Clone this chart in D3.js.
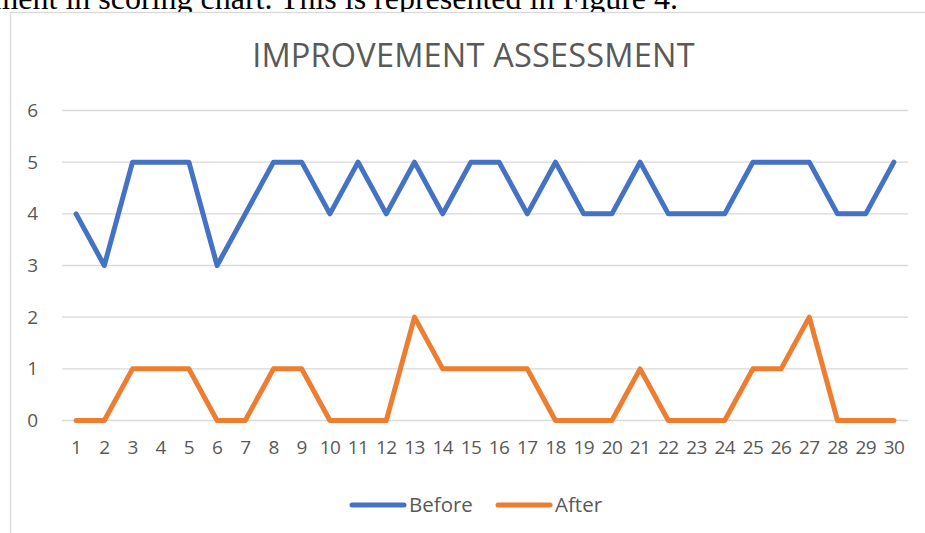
<!DOCTYPE html>
<html><head><meta charset="utf-8">
<script src="https://cdn.jsdelivr.net/npm/d3@7"></script>
<style>body{margin:0;background:#fff;overflow:hidden}svg{display:block}</style>
</head><body>
<svg id="c" width="925" height="533"></svg>
<script>
const categories = d3.range(1, 31).map(String);
const before = [4,3,5,5,5,3,4,5,5,4,5,4,5,4,5,5,4,5,4,4,5,4,4,4,5,5,5,4,4,5];
const after  = [0,0,1,1,1,0,0,1,1,0,0,0,2,1,1,1,1,0,0,0,1,0,0,0,1,1,2,0,0,0];
const yTicks = [0,1,2,3,4,5,6];
const seriesNames = ["Before","After"];
const colors = ["#4472C4","#ED7D31"];

const svg = d3.select("#c");
const font = "'Open Sans', 'Noto Sans', sans-serif";

// page text above chart
svg.append("text").attr("x", 678).attr("y", 9).attr("text-anchor","end")
  .attr("font-family","'Liberation Serif', 'Times New Roman', serif").attr("font-size", 32)
  .attr("fill","#000").text("ment in scoring chart. This is represented in Figure 4.");

// chart border
svg.append("rect").attr("x", 10.5).attr("y", 12.5).attr("width", 1000).attr("height", 600)
  .attr("fill","#fff").attr("stroke","#d9d9d9").attr("stroke-width",1.3);

const x = d3.scaleBand().domain(categories).range([62, 908]);
const y = d3.scaleLinear().domain([0,6]).range([420.5, 110.5]);

// gridlines
svg.append("g").selectAll("line").data(yTicks).join("line")
  .attr("x1", 62).attr("x2", 908).attr("y1", d=>y(d)).attr("y2", d=>y(d))
  .attr("stroke","#d9d9d9").attr("stroke-width",1.3);

// y axis
const ya = svg.append("g").attr("transform","translate(38,0)")
  .call(d3.axisLeft(y).tickValues(yTicks).tickFormat(d3.format("d")).tickSize(0).tickPadding(0));
ya.select(".domain").remove();
ya.selectAll("text").attr("font-family",font).attr("font-size",19).attr("fill","#595959");

// x axis
const xa = svg.append("g").attr("transform","translate(0,440)")
  .call(d3.axisBottom(x).tickSize(0).tickPadding(0));
xa.select(".domain").remove();
xa.selectAll("text").attr("font-family",font).attr("font-size",19).attr("fill","#595959")
  .attr("letter-spacing","-0.6");

// lines
const line = d3.line().x((d,i)=>x(categories[i]) + x.bandwidth()/2).y(d=>y(d));
[before, after].forEach((s, k) => {
  svg.append("path").datum(s).attr("d", line).attr("fill","none")
    .attr("stroke", colors[k]).attr("stroke-width", 5)
    .attr("stroke-linejoin","round").attr("stroke-linecap","round");
});

// title
svg.append("text").attr("x", 473.5).attr("y", 67).attr("text-anchor","middle")
  .attr("font-family",font).attr("font-size",32.5).attr("fill","#595959")
  .attr("letter-spacing","0.2")
  .text("IMPROVEMENT ASSESSMENT");

// legend
const legX = [350, 496];
seriesNames.forEach((n, k) => {
  const g = svg.append("g").attr("transform",`translate(${legX[k]},505)`);
  g.append("line").attr("x1",2).attr("x2",54).attr("y1",0).attr("y2",0)
    .attr("stroke",colors[k]).attr("stroke-width",5).attr("stroke-linecap","round");
  g.append("text").attr("x",59).attr("y",7).attr("font-family",font).attr("font-size",20.5)
    .attr("fill","#595959").text(n);
});
</script>
</body></html>
